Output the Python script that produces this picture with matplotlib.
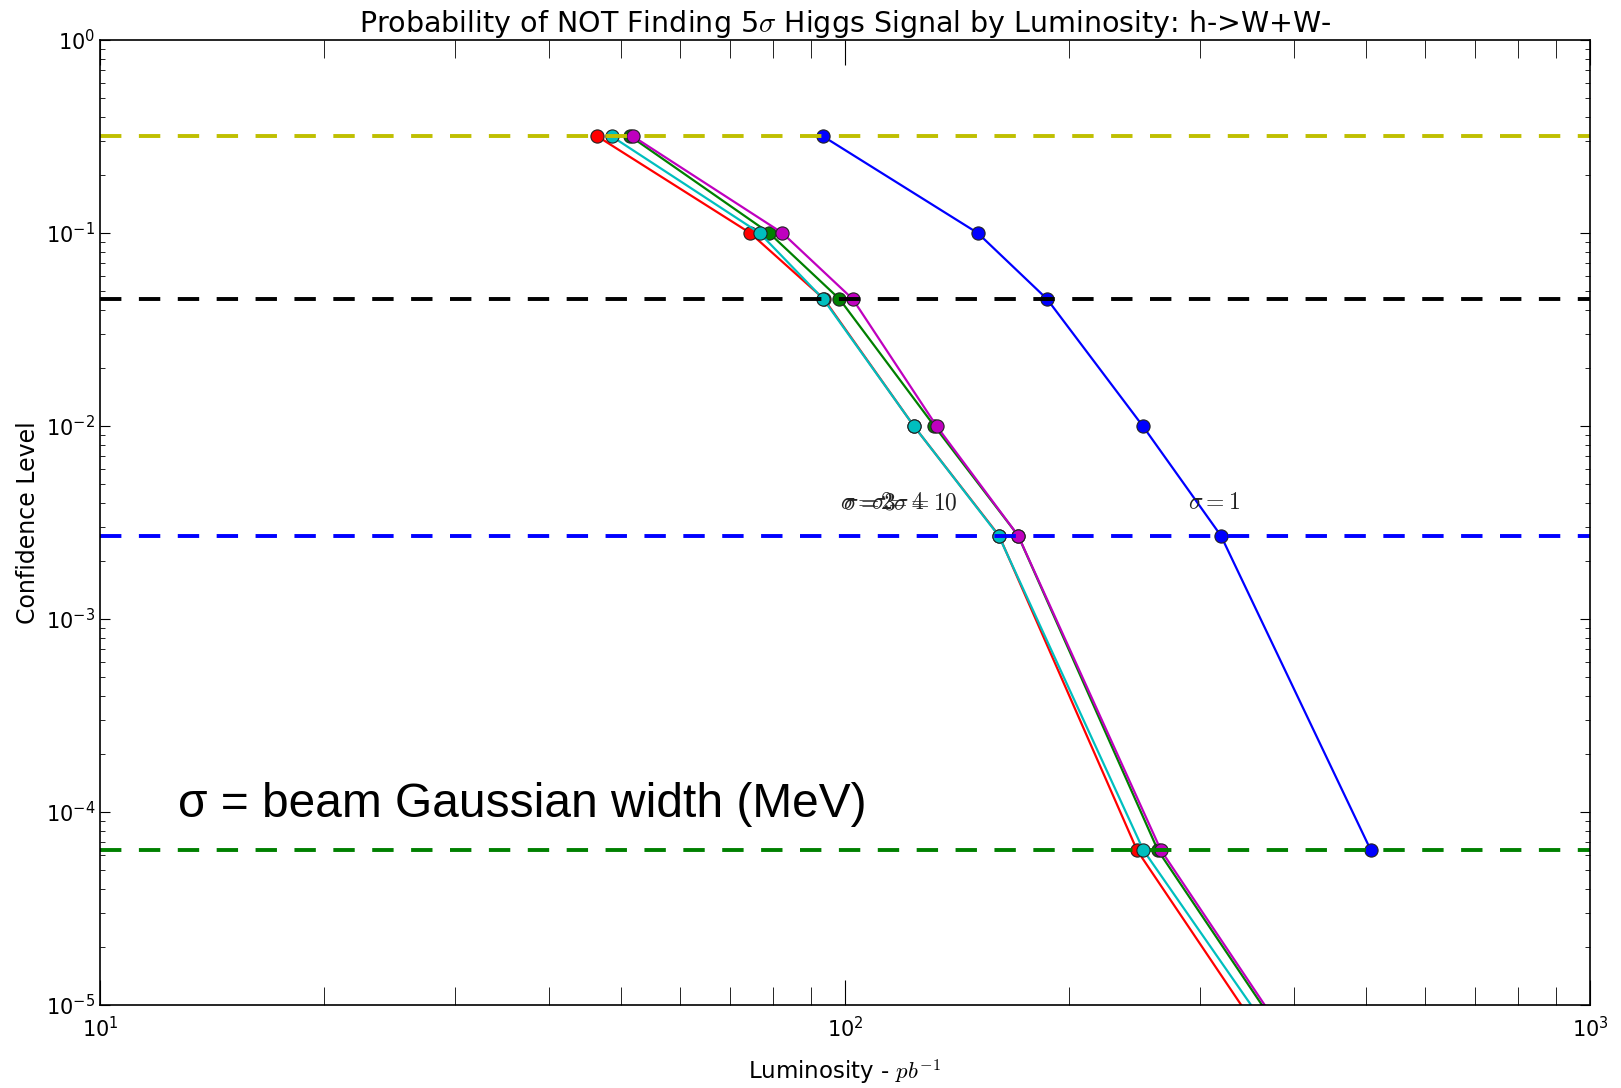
import numpy as np
import matplotlib
matplotlib.use("Agg")
import matplotlib.pyplot as plt

plt.rcParams['mathtext.fontset'] = 'cm'

# confidence levels (1 sigma .. 5 sigma, plus 0.1 and 0.01)
cl = [0.3173, 0.1, 0.0455, 0.01, 0.0027, 6.334e-5, 5.733e-7]
sig_lines = [0.3173, 0.0455, 0.0027, 6.334e-5]
sig_colors = ['y', 'k', 'b', 'g']

# luminosity needed (pb^-1) for each beam width
lumi_s1 = [93.4, 150.7, 186.7, 251.0, 319.6, 507.9]
lumi_g = [51.5, 79.1, 98.3, 131.8, 170.8, 263.0, 597.0]
lumi_r = [46.5, 74.6, 93.7, 123.7, 161.0, 246.6, 560.0]
lumi_c = [48.6, 76.8, 93.5, 123.7, 160.8, 251.5, 587.0]
lumi_m = [51.9, 82.4, 102.4, 132.7, 170.8, 265.5, 601.0]

series = [(lumi_s1, 'b'), (lumi_g, 'g'), (lumi_r, 'r'), (lumi_c, 'c'), (lumi_m, 'm')]

fig = plt.figure(figsize=(16.21, 10.88), dpi=100)
ax = fig.add_axes([0.0617, 0.0763, 0.9192, 0.8869])

for lumi, col in series:
    ax.plot(lumi, cl[:len(lumi)], '-o', color=col, mfc=col, mec='#222222', mew=0.8,
            ms=9.5, lw=1.6)

for y, col in zip(sig_lines, sig_colors):
    ax.axhline(y, color=col, ls='--', lw=2.8, dashes=(5.5, 4.5))

ax.set_xscale('log')
ax.set_yscale('log')
ax.set_xlim(10, 1000)
ax.set_ylim(1e-5, 1)

# sigma labels
ax.text(288.7, 0.0037, r'$\sigma=1$', fontsize=17, color='#222222')
for xt, lab in [(98.5, r'$\sigma=2$'), (99.3, r'$\sigma=3$'),
                (108.5, r'$\sigma=4$'), (116.0, r'$\sigma=10$')]:
    ax.text(xt, 0.0037, lab, fontsize=17, color='#222222')

ax.text(12.73, 9.42e-5, 'σ = beam Gaussian width (MeV)', fontsize=34.5,
        family='Liberation Sans')

ax.set_title(r'Probability of NOT Finding 5$\sigma$ Higgs Signal by Luminosity: h->W+W-',
             fontsize=20.5, pad=3)
ax.set_xlabel(r'Luminosity - $pb^{-1}$', fontsize=16.5, labelpad=12)
ax.set_ylabel('Confidence Level', fontsize=17)

ax.tick_params(which='both', direction='in', top=True, right=True, labelsize=15)
ax.tick_params(axis='x', which='major', length=18, pad=8)
ax.tick_params(axis='x', which='minor', length=13)
ax.tick_params(axis='y', which='major', length=7)
ax.tick_params(axis='y', which='minor', length=3.6)
for s in ax.spines.values():
    s.set_linewidth(1.2)

plt.savefig('out.png', dpi=100)
